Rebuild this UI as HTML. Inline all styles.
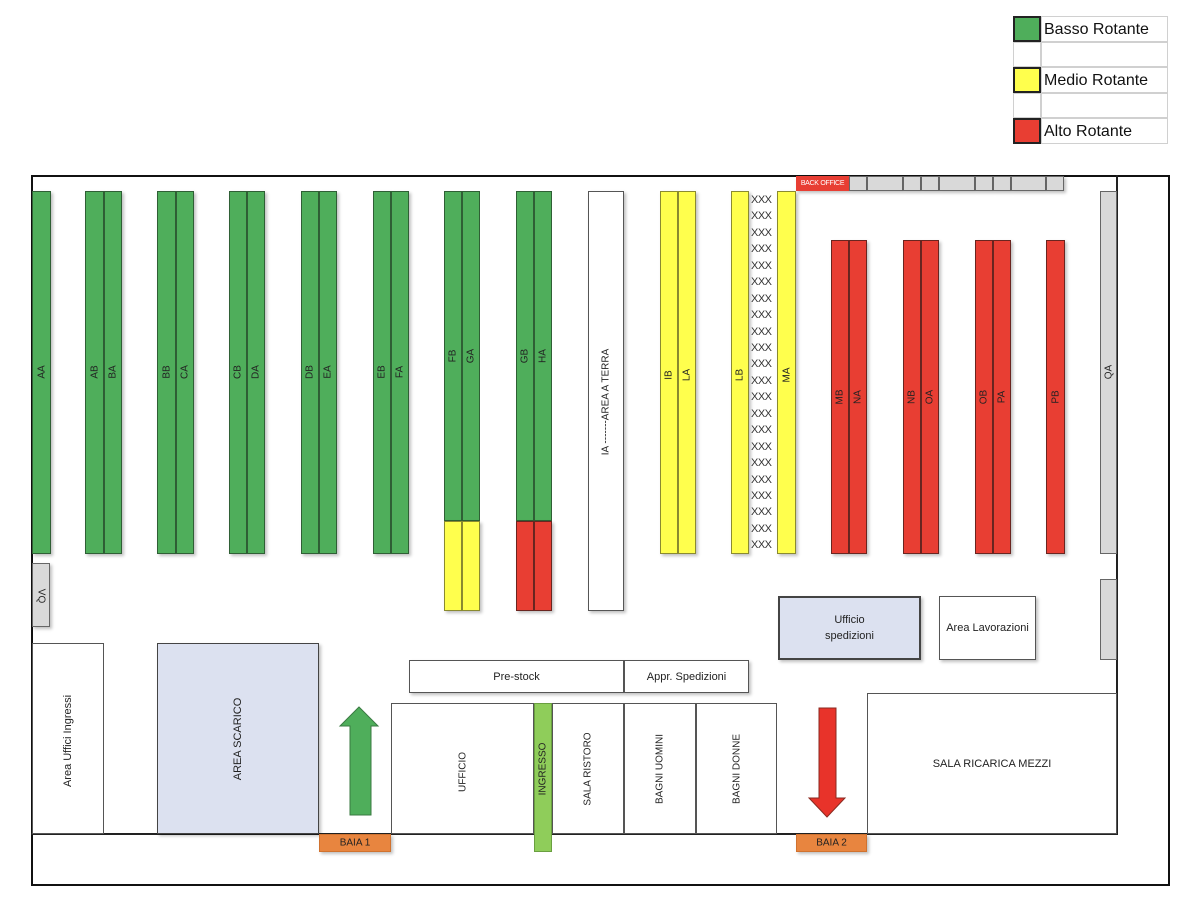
<!DOCTYPE html>
<html><head><meta charset="utf-8"><style>
html,body{margin:0;padding:0;background:#fff;}
body{width:1190px;height:924px;position:relative;overflow:hidden;font-family:"Liberation Sans",sans-serif;}
.b{position:absolute;box-sizing:border-box;border:1px solid #444;}
.g{background:#4fae5b;border-color:#2f5f35;}
.y{background:#ffff4d;border-color:#8a8a30;}
.r{background:#e83e33;border-color:#6a2520;}
.gr{background:#d9d9d9;border-color:#666;}
.w{background:#fff;border-color:#555;}
.bl{background:#dce1f0;border-color:#444;}
.o{background:#e8853f;border-color:#d0722f;}
.l{position:absolute;left:50%;white-space:nowrap;font-size:10px;color:#222;transform:translate(-50%,-50%) rotate(-90deg);}
.h{position:absolute;left:0;right:0;top:50%;transform:translateY(-50%);text-align:center;font-size:11px;color:#222;}
.x{position:absolute;left:751px;font-size:11px;color:#333;letter-spacing:-0.5px;}
.sh{box-shadow:2px 2px 3px rgba(0,0,0,0.25);}
.lg{position:absolute;left:31px;font-size:16px;color:#111;white-space:nowrap;}
</style></head><body>

<!-- legend -->
<div style="position:absolute;left:1013px;top:16px;width:155px;height:128px;">
 <div class="b" style="left:0;top:0;width:28px;height:26px;background:#4fae5b;border:2px solid #222;"></div>
 <div class="b" style="left:28px;top:0;width:127px;height:26px;border:1px solid #d0d0d0;"></div>
 <div class="lg" style="top:5px;">Basso Rotante</div>
 <div class="b" style="left:0;top:26px;width:28px;height:25px;border:1px solid #d0d0d0;"></div>
 <div class="b" style="left:28px;top:26px;width:127px;height:25px;border:1px solid #d0d0d0;"></div>
 <div class="b" style="left:0;top:51px;width:28px;height:26px;background:#ffff4d;border:2px solid #222;"></div>
 <div class="b" style="left:28px;top:51px;width:127px;height:26px;border:1px solid #d0d0d0;"></div>
 <div class="lg" style="top:56px;">Medio Rotante</div>
 <div class="b" style="left:0;top:77px;width:28px;height:25px;border:1px solid #d0d0d0;"></div>
 <div class="b" style="left:28px;top:77px;width:127px;height:25px;border:1px solid #d0d0d0;"></div>
 <div class="b" style="left:0;top:102px;width:28px;height:26px;background:#e83e33;border:2px solid #222;"></div>
 <div class="b" style="left:28px;top:102px;width:127px;height:26px;border:1px solid #d0d0d0;"></div>
 <div class="lg" style="top:107px;">Alto Rotante</div>
</div>

<!-- outer walls -->
<div class="b" style="left:31px;top:175px;width:1139px;height:711px;border:2px solid #111;"></div>
<div style="position:absolute;left:1116px;top:175px;width:2px;height:660px;background:#222;"></div>
<div style="position:absolute;left:31px;top:833px;width:1087px;height:2px;background:#222;"></div>

<!-- top back office -->
<div class="b sh" style="left:796px;top:176px;width:53px;height:15px;background:#e83e33;border-color:#e83e33;"><div style="position:absolute;left:0;right:0;top:3px;text-align:center;font-size:7px;color:#fff;white-space:nowrap;letter-spacing:-0.3px;">BACK OFFICE</div></div>
<div class="b gr sh" style="left:849px;top:176px;width:18px;height:15px;"></div>
<div class="b gr sh" style="left:867px;top:176px;width:36px;height:15px;"></div>
<div class="b gr sh" style="left:903px;top:176px;width:18px;height:15px;"></div>
<div class="b gr sh" style="left:921px;top:176px;width:18px;height:15px;"></div>
<div class="b gr sh" style="left:939px;top:176px;width:36px;height:15px;"></div>
<div class="b gr sh" style="left:975px;top:176px;width:18px;height:15px;"></div>
<div class="b gr sh" style="left:993px;top:176px;width:18px;height:15px;"></div>
<div class="b gr sh" style="left:1011px;top:176px;width:35px;height:15px;"></div>
<div class="b gr sh" style="left:1046px;top:176px;width:18px;height:15px;"></div>

<!-- green racks -->
<div class="b g sh" style="left:32px;top:191px;width:19px;height:363px;"><span class="l" style="top:180px">AA</span></div>
<div class="b g sh" style="left:85px;top:191px;width:19px;height:363px;"><span class="l" style="top:180px">AB</span></div>
<div class="b g sh" style="left:104px;top:191px;width:18px;height:363px;"><span class="l" style="top:180px">BA</span></div>
<div class="b g sh" style="left:157px;top:191px;width:19px;height:363px;"><span class="l" style="top:180px">BB</span></div>
<div class="b g sh" style="left:176px;top:191px;width:18px;height:363px;"><span class="l" style="top:180px">CA</span></div>
<div class="b g sh" style="left:229px;top:191px;width:18px;height:363px;"><span class="l" style="top:180px">CB</span></div>
<div class="b g sh" style="left:247px;top:191px;width:18px;height:363px;"><span class="l" style="top:180px">DA</span></div>
<div class="b g sh" style="left:301px;top:191px;width:18px;height:363px;"><span class="l" style="top:180px">DB</span></div>
<div class="b g sh" style="left:319px;top:191px;width:18px;height:363px;"><span class="l" style="top:180px">EA</span></div>
<div class="b g sh" style="left:373px;top:191px;width:18px;height:363px;"><span class="l" style="top:180px">EB</span></div>
<div class="b g sh" style="left:391px;top:191px;width:18px;height:363px;"><span class="l" style="top:180px">FA</span></div>
<div class="b g" style="left:444px;top:191px;width:18px;height:330px;"><span class="l" style="top:164px">FB</span></div>
<div class="b g" style="left:462px;top:191px;width:18px;height:330px;"><span class="l" style="top:164px">GA</span></div>
<div class="b y sh" style="left:444px;top:521px;width:18px;height:90px;"></div>
<div class="b y sh" style="left:462px;top:521px;width:18px;height:90px;"></div>
<div class="b g" style="left:516px;top:191px;width:18px;height:330px;"><span class="l" style="top:164px">GB</span></div>
<div class="b g" style="left:534px;top:191px;width:18px;height:330px;"><span class="l" style="top:164px">HA</span></div>
<div class="b r sh" style="left:516px;top:521px;width:18px;height:90px;"></div>
<div class="b r sh" style="left:534px;top:521px;width:18px;height:90px;"></div>

<!-- area a terra -->
<div class="b w sh" style="left:588px;top:191px;width:36px;height:420px;"><span class="l" style="top:210px">IA -------AREA A TERRA</span></div>

<!-- yellow -->
<div class="b y sh" style="left:660px;top:191px;width:18px;height:363px;"><span class="l" style="top:183px">IB</span></div>
<div class="b y sh" style="left:678px;top:191px;width:18px;height:363px;"><span class="l" style="top:183px">LA</span></div>
<div class="b y sh" style="left:731px;top:191px;width:18px;height:363px;"><span class="l" style="top:183px">LB</span></div>
<div class="b y sh" style="left:777px;top:191px;width:19px;height:363px;"><span class="l" style="top:183px">MA</span></div>
<div class="x" style="top:194px">XXX</div><div class="x" style="top:210px">XXX</div><div class="x" style="top:227px">XXX</div><div class="x" style="top:243px">XXX</div><div class="x" style="top:260px">XXX</div><div class="x" style="top:276px">XXX</div><div class="x" style="top:293px">XXX</div><div class="x" style="top:309px">XXX</div><div class="x" style="top:326px">XXX</div><div class="x" style="top:342px">XXX</div><div class="x" style="top:358px">XXX</div><div class="x" style="top:375px">XXX</div><div class="x" style="top:391px">XXX</div><div class="x" style="top:408px">XXX</div><div class="x" style="top:424px">XXX</div><div class="x" style="top:441px">XXX</div><div class="x" style="top:457px">XXX</div><div class="x" style="top:474px">XXX</div><div class="x" style="top:490px">XXX</div><div class="x" style="top:506px">XXX</div><div class="x" style="top:523px">XXX</div><div class="x" style="top:539px">XXX</div>

<!-- red -->
<div class="b r sh" style="left:831px;top:240px;width:18px;height:314px;"><span class="l" style="top:156px">MB</span></div>
<div class="b r sh" style="left:849px;top:240px;width:18px;height:314px;"><span class="l" style="top:156px">NA</span></div>
<div class="b r sh" style="left:903px;top:240px;width:18px;height:314px;"><span class="l" style="top:156px">NB</span></div>
<div class="b r sh" style="left:921px;top:240px;width:18px;height:314px;"><span class="l" style="top:156px">OA</span></div>
<div class="b r sh" style="left:975px;top:240px;width:18px;height:314px;"><span class="l" style="top:156px">OB</span></div>
<div class="b r sh" style="left:993px;top:240px;width:18px;height:314px;"><span class="l" style="top:156px">PA</span></div>
<div class="b r sh" style="left:1046px;top:240px;width:19px;height:314px;"><span class="l" style="top:156px">PB</span></div>

<!-- gray side -->
<div class="b gr" style="left:1100px;top:191px;width:17px;height:363px;"><span class="l" style="top:180px">QA</span></div>
<div class="b gr" style="left:1100px;top:579px;width:17px;height:81px;"></div>
<div class="b gr sh" style="left:32px;top:563px;width:18px;height:64px;"><span class="l" style="top:32px;transform:translate(-50%,-50%) rotate(90deg);">VQ</span></div>

<!-- lower rooms -->
<div class="b w" style="left:32px;top:643px;width:72px;height:191px;"><span class="l" style="top:97px;font-size:11px;">Area Uffici Ingressi</span></div>
<div class="b bl sh" style="left:157px;top:643px;width:162px;height:191px;"><span class="l" style="top:95px;font-size:11px;">AREA SCARICO</span></div>
<div class="b w sh" style="left:409px;top:660px;width:215px;height:33px;"><div class="h">Pre-stock</div></div>
<div class="b w sh" style="left:624px;top:660px;width:125px;height:33px;"><div class="h">Appr. Spedizioni</div></div>
<div class="b w" style="left:391px;top:703px;width:143px;height:131px;"><span class="l" style="top:68px">UFFICIO</span></div>
<div class="b" style="left:534px;top:703px;width:18px;height:149px;background:#8fcd5a;border-color:#6a9f40;"><span class="l" style="top:65px;">INGRESSO</span></div>
<div class="b w" style="left:552px;top:703px;width:72px;height:131px;"><span class="l" style="top:65px">SALA RISTORO</span></div>
<div class="b w" style="left:624px;top:703px;width:72px;height:131px;"><span class="l" style="top:65px">BAGNI UOMINI</span></div>
<div class="b w" style="left:696px;top:703px;width:81px;height:131px;"><span class="l" style="top:65px">BAGNI DONNE</span></div>
<div class="b w" style="left:867px;top:693px;width:250px;height:141px;"><div class="h">SALA RICARICA MEZZI</div></div>
<div class="b bl sh" style="left:778px;top:596px;width:143px;height:64px;border-width:2px;"><div class="h" style="line-height:16px;">Ufficio<br>spedizioni</div></div>
<div class="b w sh" style="left:939px;top:596px;width:97px;height:64px;"><div class="h">Area Lavorazioni</div></div>

<!-- bays -->
<div class="b o sh" style="left:319px;top:834px;width:72px;height:18px;"><div class="h" style="font-size:10px;">BAIA 1</div></div>
<div class="b o sh" style="left:796px;top:834px;width:71px;height:18px;"><div class="h" style="font-size:10px;">BAIA 2</div></div>

<!-- arrows -->
<svg style="position:absolute;left:0;top:0" width="1190" height="924">
 <polygon points="359,707 378,726 371,726 371,815 350,815 350,726 340,726" fill="#4fae5b" stroke="#3a7a42" stroke-width="1"/>
 <polygon points="819,708 836,708 836,798 845,798 827,817 809,798 819,798" fill="#e8332a" stroke="#8a2a20" stroke-width="1"/>
</svg>
</body></html>
